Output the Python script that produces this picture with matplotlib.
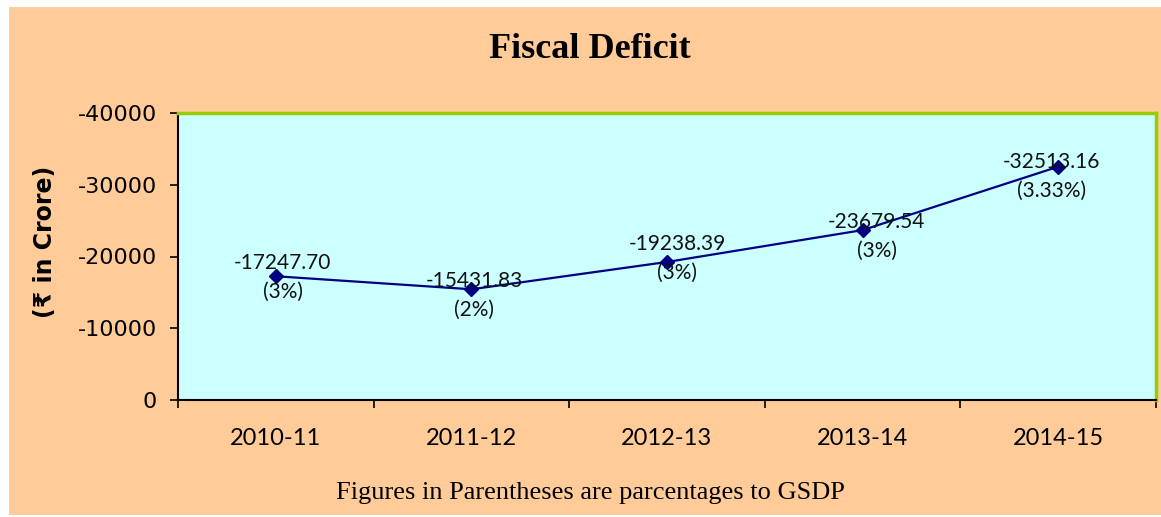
import matplotlib
matplotlib.use("Agg")
import matplotlib.pyplot as plt
from matplotlib.patches import Rectangle

# data
years = ["2010-11", "2011-12", "2012-13", "2013-14", "2014-15"]
deficit = [-17247.70, -15431.83, -19238.39, -23679.54, -32513.16]
pct_gsdp = ["3%", "2%", "3%", "3%", "3.33%"]
y_ticks = [0, -10000, -20000, -30000, -40000]

# where Excel put each label block, relative to its marker (pixels)
label_offsets = [(7, -1), (3, -6), (10, 4), (14, -6), (-7, -10)]

W, H = 1161, 517
fig = plt.figure(figsize=(W / 100, H / 100), dpi=100)
fig.patch.set_facecolor("white")
fig.patches.append(Rectangle((9 / W, 1 - 515 / H), 1, (515 - 7) / H,
                             transform=fig.transFigure, facecolor="#FFCC99",
                             edgecolor="none", zorder=-10))

ax = fig.add_axes([178 / W, 1 - 400 / H, (1156 - 178) / W, (400 - 113) / H])
ax.set_facecolor("#CCFFFF")

x = list(range(len(years)))
ax.plot(x, deficit, color="#000080", lw=1.6, marker="D", ms=7.5,
        markerfacecolor="#000080", markeredgecolor="#000080", zorder=3)

for xi, val, pct, (dx, dy) in zip(x, deficit, pct_gsdp, label_offsets):
    ax.annotate(f"{val:.2f}\n({pct})", (xi, val), xytext=(dx, dy),
                textcoords="offset pixels", ha="center", va="center",
                fontsize=15, family="Lato", linespacing=1.55,
                color="#111111", zorder=4)

ax.set_xlim(-0.5, len(years) - 0.5)
ax.set_ylim(0, -40000)
ax.set_yticks(y_ticks)
ax.set_yticklabels([str(v) for v in y_ticks], fontsize=16, family="DejaVu Sans")
ax.tick_params(axis="y", direction="out", length=6, width=1.2, pad=9,
               colors="black")

ax.set_xticks(x)
ax.set_xticklabels(years, fontsize=17, family="Lato")
ax.set_xticks([i - 0.5 for i in range(len(years) + 1)], minor=True)
ax.tick_params(axis="x", which="major", length=0, pad=20)
ax.tick_params(axis="x", which="minor", direction="out", length=6, width=1.2)

for side in ["left", "bottom"]:
    ax.spines[side].set_color("black")
    ax.spines[side].set_linewidth(1.5)
for side in ["top", "right"]:
    ax.spines[side].set_color("#99CC00")
    ax.spines[side].set_linewidth(2.5)

fig.text(45 / W, 1 - 242 / H, "(\u20b9 in Crore)", rotation=90, ha="center",
         va="center", fontsize=17, fontweight="bold", family="DejaVu Sans")
fig.text(590 / W, 1 - 49 / H, "Fiscal Deficit", ha="center", va="center",
         fontsize=26, fontweight="bold", family="Liberation Serif")
fig.text(590 / W, 1 - 493 / H, "Figures in Parentheses are parcentages to GSDP",
         ha="center", va="center", fontsize=19, family="Liberation Serif")

fig.savefig("out.png", dpi=100)
